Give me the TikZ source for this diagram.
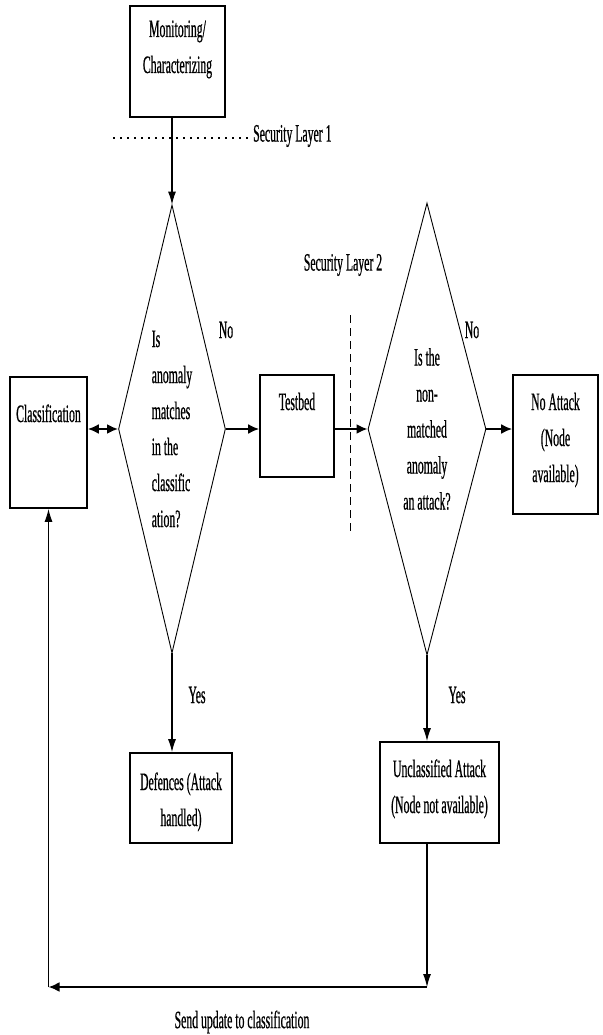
\documentclass[tikz,border=0pt]{standalone}
\usepackage{fontspec}
\setmainfont[FakeStretch=0.47,FakeBold=0.6]{Liberation Serif}
\usetikzlibrary{arrows.meta,positioning,shapes.geometric}
% text sits near the top of a box, as in a word-processor text box
\newcommand{\toptext}[4][35pt]{\parbox[c][#3][t]{#2}{\centering\rule{0pt}{#1}#4}}
\tikzset{
  every node/.style={font=\fontsize{25}{36}\selectfont, text=black},
  box/.style={draw=black, line width=1.7pt, fill=white, inner sep=0pt},
  decision/.style={diamond, draw=black, line width=0.9pt, inner sep=0pt},
  note/.style={inner sep=0pt},
  arrow/.style={-{Latex[length=11pt,width=10pt]}, line width=2pt},
  twoway/.style={{Latex[length=11pt,width=10pt]}-{Latex[length=11pt,width=10pt]}, line width=2pt},
  thinarrow/.style={-{Latex[length=13pt,width=8pt]}, line width=1.1pt},
  dotline/.style={line width=1.5pt, dash pattern=on 1.5pt off 5.5pt},
  dashline/.style={line width=1pt, dash pattern=on 8pt off 5pt},
}
\begin{document}
\begin{tikzpicture}[x=1pt,y=-1pt]
\useasboundingbox (0,0) rectangle (602,1035);
% boxes
\node[box] (mon) at (177.5,61.5) {\toptext[31pt]{95pt}{111pt}{Monitoring/\\Characterizing}};
\node[box] (cls) at (48.5,442.5) {\toptext[45pt]{77pt}{131pt}{Classification}};
\node[box] (test) at (297,426) {\toptext{74pt}{102pt}{Testbed}};
\node[box] (noatt) at (555.5,444.5) {\toptext{85pt}{139pt}{No Attack\\(Node\\available)}};
\node[box] (def) at (181,798) {\toptext[37pt]{102pt}{90pt}{Defences (Attack\\handled)}};
\node[box] (unc) at (439.5,792.5) {\toptext{119pt}{101pt}{Unclassified Attack\\(Node not available)}};
% decisions
\node[decision, minimum width=107pt, minimum height=448pt, aspect=0.24, align=left] (dia1) at (172,429) {Is\\anomaly\\matches\\in the\\classific\\ation?};
\node[decision, minimum width=118pt, minimum height=452pt, aspect=0.26, align=center] (dia2) at (427,429) {Is the\\non-\\matched\\anomaly\\an attack?};
% labels
\node[note] (no1) at (226,330) {No};
\node[note] (no2) at (472,330) {No};
\node[note] (yes1) at (197,695) {Yes};
\node[note] (yes2) at (457,695) {Yes};
\node[note, anchor=west] (sl1) at (253,136) {Security Layer 1};
\node[note] (sl2) at (343,265) {Security Layer 2};
\node[note] (upd) at (242,1022) {Send update to classification};
% layer lines
\coordinate (dotstart) at (113,138);
\draw[dotline] (dotstart) -- ([xshift=-3pt]sl1.west |- dotstart);
\coordinate (dashtop) at (350,315);
\coordinate (dashbot) at (350,532);
\draw[dashline] (dashtop) -- (dashbot);
% connectors
\draw[thinarrow] (mon.south -| dia1.north) -- (dia1.north);
\draw[twoway] (cls.east |- dia1.west) -- (dia1.west);
\draw[arrow] (dia1.east) -- (test.west |- dia1.east);
\draw[arrow] (test.east |- dia2.west) -- (dia2.west);
\draw[arrow] (dia2.east) -- (noatt.west |- dia2.east);
\draw[thinarrow] (dia1.south) -- (def.north -| dia1.south);
\draw[thinarrow] (dia2.south) -- (unc.north -| dia2.south);
\coordinate (c1) at (427,987);
\coordinate (c2) at (48.5,987);
\draw[thinarrow] (unc.south -| c1) -- (c1);
\draw[arrow] (c1) -- (c2);
\draw[thinarrow] (c2) -- (cls.south);
\end{tikzpicture}
\end{document}
